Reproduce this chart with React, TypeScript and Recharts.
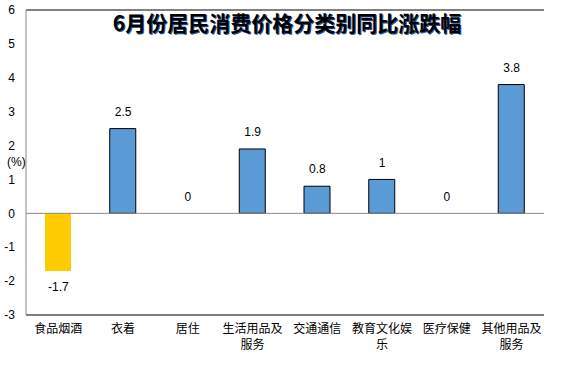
import React from "react";
import {
  ComposedChart,
  Bar,
  Line,
  XAxis,
  YAxis,
  Cell,
  LabelList,
  ReferenceLine,
} from "recharts";

const categories = [
  "食品烟酒",
  "衣着",
  "居住",
  "生活用品及服务",
  "交通通信",
  "教育文化娱乐",
  "医疗保健",
  "其他用品及服务",
];
const values = [-1.7, 2.5, 0, 1.9, 0.8, 1, 0, 3.8];
const yTicks = [-3, -2, -1, 0, 1, 2, 3, 4, 5, 6];

const data = categories.map((name, i) => ({ name, value: values[i] }));

const CJK = '"Noto Sans CJK SC", "Noto Sans", sans-serif';
const SANS = '"Liberation Sans", Arial, sans-serif';

function CategoryTick(props: any) {
  const { x, y, payload } = props;
  const text: string = payload.value;
  const lines = text.length > 5 ? [text.slice(0, 5), text.slice(5)] : [text];
  return (
    <g>
      {lines.map((l, i) => (
        <text
          key={i}
          x={x}
          y={y + 7 + i * 15.5}
          textAnchor="middle"
          dominantBaseline="middle"
          fontFamily={CJK}
          fontSize={12}
          fill="#000"
        >
          {l}
        </text>
      ))}
    </g>
  );
}

// labels drawn from the invisible line's points, so zero values get one too
function ValueLabel(props: any) {
  const { x, y, value } = props;
  return (
    <text
      x={x}
      y={value < 0 ? y + 17 : y - 16}
      textAnchor="middle"
      dominantBaseline="middle"
      fontFamily={SANS}
      fontSize={12}
      fill="#000"
    >
      {value}
    </text>
  );
}

export default function App() {
  return (
    <div style={{ position: "fixed", left: 0, top: 0, width: 574, height: 374, background: "#fff" }}>
      <div
        style={{
          position: "absolute",
          left: 0,
          width: 574,
          top: 8,
          textAlign: "center",
          fontFamily: CJK,
          fontWeight: 700,
          fontSize: 21,
          lineHeight: "28px",
          color: "#000",
          textShadow: "1px 1px 0 #2f5597",
          zIndex: 2,
        }}
      >
        6月份居民消费价格分类别同比涨跌幅
      </div>
      <div
        style={{
          position: "absolute",
          left: 7,
          top: 155,
          fontFamily: SANS,
          fontSize: 12,
          color: "#000",
          zIndex: 2,
        }}
      >
        (%)
      </div>
      <ComposedChart
        width={574}
        height={374}
        data={data}
        margin={{ top: 10, right: 30, left: 0, bottom: 0 }}
      >
        <XAxis
          dataKey="name"
          height={59}
          interval={0}
          tickLine={false}
          axisLine={{ stroke: "#000" }}
          tick={<CategoryTick />}
        />
        <YAxis
          width={26}
          domain={[-3, 6]}
          ticks={yTicks}
          tickLine={false}
          tickSize={0}
          tickMargin={11}
          axisLine={{ stroke: "#888" }}
          tick={{ fontFamily: SANS, fontSize: 12, fill: "#000" }}
          interval={0}
        />
        <YAxis
          yAxisId="r"
          orientation="right"
          width={0}
          domain={[-3, 6]}
          tick={false}
          tickLine={false}
          axisLine={{ stroke: "#000" }}
        />
        <ReferenceLine y={6} stroke="#000" />
        <ReferenceLine y={0} stroke="#888" />
        <Bar dataKey="value" barSize={26} isAnimationActive={false} stroke="#000" strokeWidth={1}>
          {data.map((d, i) => (
            <Cell
              key={i}
              fill={d.value < 0 ? "#FFCC00" : "#5B9BD5"}
              stroke={d.value < 0 ? "none" : "#000"}
            />
          ))}
        </Bar>
        <Line
          dataKey="value"
          stroke="none"
          dot={false}
          activeDot={false}
          isAnimationActive={false}
          legendType="none"
        >
          <LabelList dataKey="value" content={<ValueLabel />} />
        </Line>
      </ComposedChart>
    </div>
  );
}
